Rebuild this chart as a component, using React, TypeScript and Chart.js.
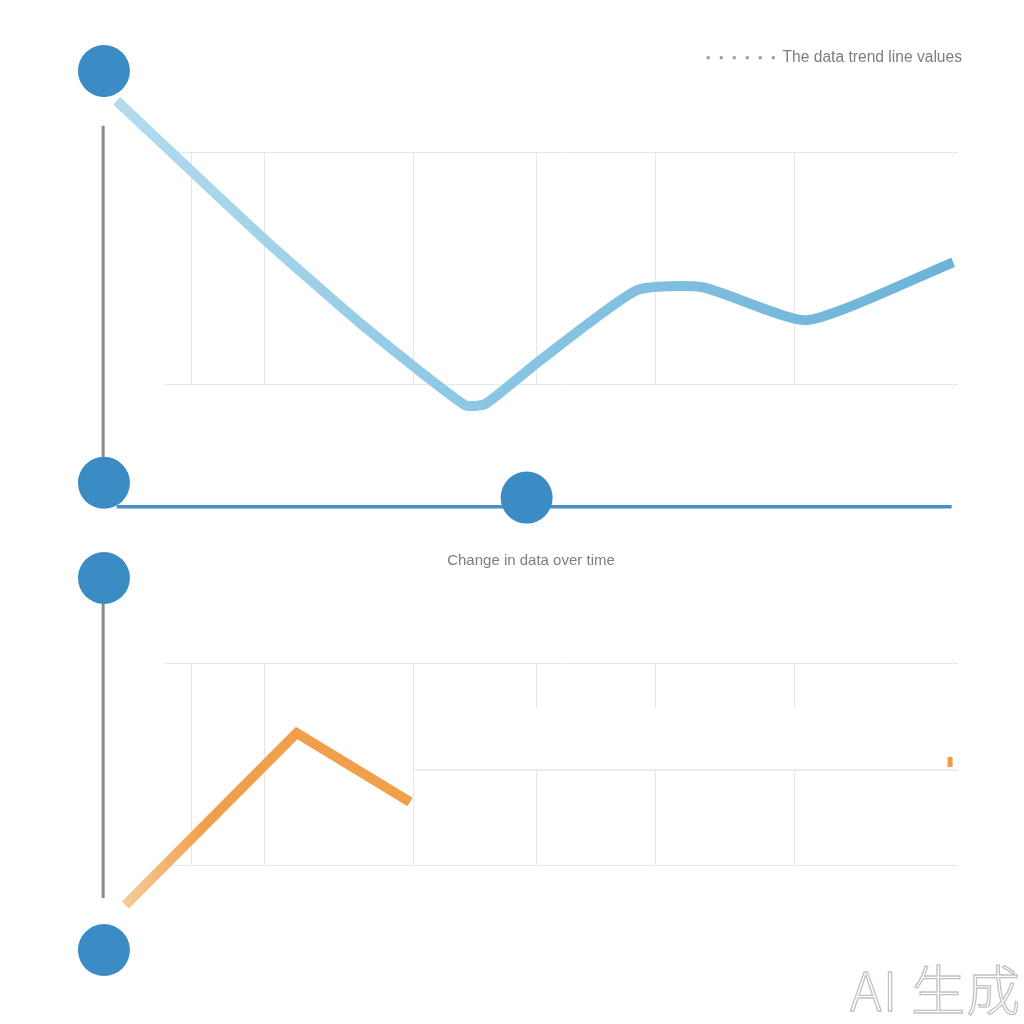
import React, { useEffect, useRef } from 'react';
import { Chart, registerables } from 'chart.js';

Chart.register(...registerables);

// ---------- data ----------
const LEGEND_LABEL = 'The data trend line values';
const TITLE_TEXT = 'Change in data over time';
const WATERMARK = 'AI 生成';

const X_GRID = [3.4, 12.5, 31.3, 46.8, 61.9, 79.4];
const Y_GRID = [0, 100];

// top panel – light blue trend line
const TOP_X = [-6.1, 12.0, 24.6, 37.8, 40.4, 46.9, 59.5, 67.8, 81.0, 99.4];
const TOP_Y = [122.4, 64.2, 26.3, -9.1, -8.6, 9.1, 40.5, 41.8, 27.6, 52.6];
// top panel – markers, axis and base line
const TOP_MARK_X = [-7.7, -7.7, 45.6];
const TOP_MARK_Y = [135.3, -42.7, -49.1];
const TOP_AXIS_X = [-7.8, -7.8];
const TOP_AXIS_Y = [111.6, -31.5];
const TOP_BASE_X = [-6.1, 99.2];
const TOP_BASE_Y = [-53.0, -53.0];

// bottom panel – orange line
const BOT_X = [-5.0, 16.6, 30.9];
const BOT_Y = [-19.8, 65.3, 31.2];
const BOT_MARK_X = [-7.7, -7.7];
const BOT_MARK_Y = [142.1, -42.1];
const BOT_AXIS_X = [-7.8, -7.8];
const BOT_AXIS_Y = [131.2, -16.3];
const MID_X = [31.3, 100];
const MID_Y = [47.0, 47.0];
const GAP_X = [31.5, 100];
const GAP_TOP = [77.7, 77.7];
const GAP_BOTTOM = 47.3;
const TICK_X = [99.0, 99.0];
const TICK_Y = [53.5, 48.5];

// ---------- styles ----------
const GRID_COLOR = '#e2e8ed';
const MARK_COLOR = '#3b8cc5';
const AXIS_COLOR = '#8b8b8b';
const TEXT_COLOR = '#7d7d7d';
const FONT_FAMILY = '"Liberation Sans", Arial, sans-serif';

const pts = (xs: number[], ys: number[]) => xs.map((x, i) => ({ x, y: ys[i] }));

function axisRange(min: number, max: number, ticks: number[], gridShown: boolean) {
  return {
    type: 'linear' as const,
    bounds: 'data' as const,
    display: true,
    afterDataLimits: (s: any) => {
      s.min = min;
      s.max = max;
    },
    afterBuildTicks: (s: any) => {
      s.ticks = ticks.map((v) => ({ value: v }));
    },
    ticks: { display: false },
    border: { display: false },
    grid: { display: gridShown, drawTicks: false, color: GRID_COLOR, lineWidth: 1 },
  };
}

function spacer(position: 'top' | 'right' | 'left', size: number) {
  return {
    type: 'linear' as const,
    position,
    display: true,
    ticks: { display: false },
    border: { display: false },
    grid: { display: false, drawTicks: false },
    afterFit: (s: any) => {
      if (position === 'top') s.height = size;
      else s.width = size;
    },
  };
}

function markerSet(xs: number[], ys: number[]) {
  return {
    data: pts(xs, ys),
    showLine: false,
    pointRadius: 26,
    pointHoverRadius: 200,
    pointBackgroundColor: MARK_COLOR,
    pointBorderWidth: 0,
    clip: false as const,
    order: 0,
  };
}

function lineSet(xs: number[], ys: number[], color: any, width: number, order: number) {
  return {
    data: pts(xs, ys),
    borderColor: color,
    borderWidth: width,
    pointRadius: 0,
    tension: 0,
    clip: false as const,
    order,
  };
}

export default function App() {
  const topRef = useRef<HTMLCanvasElement>(null);
  const botRef = useRef<HTMLCanvasElement>(null);

  useEffect(() => {
    const topGradient = (ctx: any) => {
      const chart = ctx.chart;
      const area = chart.chartArea;
      if (!area) return '#8cc6e2';
      const g = chart.ctx.createLinearGradient(area.left - 60, 0, area.right, 0);
      g.addColorStop(0, '#b4dcee');
      g.addColorStop(0.45, '#8ac6e3');
      g.addColorStop(1, '#6cb2d9');
      return g;
    };
    const orangeGradient = (ctx: any) => {
      const chart = ctx.chart;
      const area = chart.chartArea;
      if (!area) return '#f0a04a';
      const g = chart.ctx.createLinearGradient(area.left - 50, 0, area.left + 40, 0);
      g.addColorStop(0, '#f7cfa3');
      g.addColorStop(1, '#f0a04a');
      return g;
    };

    const top = new Chart(topRef.current as HTMLCanvasElement, {
      type: 'line',
      data: {
        datasets: [
          {
            ...lineSet(TOP_X, TOP_Y, topGradient, 10, 3),
            label: LEGEND_LABEL,
            tension: 0.18,
            borderJoinStyle: 'round',
            borderCapStyle: 'butt',
          } as any,
          lineSet(TOP_AXIS_X, TOP_AXIS_Y, AXIS_COLOR, 3, 2),
          lineSet(TOP_BASE_X, TOP_BASE_Y, '#4a8ec4', 3.5, 1),
          markerSet(TOP_MARK_X, TOP_MARK_Y),
        ],
      },
      options: {
        responsive: false,
        animation: false,
        events: [],
        elements: { line: { capBezierPoints: false } },
        layout: { autoPadding: false, padding: { left: 165, right: 52, top: 40, bottom: 156 } },
        scales: {
          x: { ...axisRange(0, 100, X_GRID, true), position: 'bottom' },
          y: { ...axisRange(0, 100, Y_GRID, true), position: 'left' },
          xT: spacer('top', 77),
          yR: spacer('right', 14),
        } as any,
        plugins: {
          tooltip: { enabled: false },
          title: { display: false },
          legend: {
            display: true,
            position: 'top',
            align: 'end',
            labels: {
              usePointStyle: true,
              pointStyleWidth: 68,
              padding: 10,
              color: TEXT_COLOR,
              font: { family: FONT_FAMILY, size: 15.6 },
              generateLabels: () => [
                {
                  text: LEGEND_LABEL,
                  fillStyle: 'rgba(0,0,0,0)',
                  strokeStyle: '#9b9b9b',
                  lineWidth: 3,
                  lineDash: [3, 10],
                  lineCap: 'butt',
                  pointStyle: 'line',
                  hidden: false,
                  fontColor: TEXT_COLOR,
                  datasetIndex: 0,
                } as any,
              ],
            },
          },
        },
      },
    });

    const bottom = new Chart(botRef.current as HTMLCanvasElement, {
      type: 'line',
      data: {
        datasets: [
          {
            ...lineSet(BOT_X, BOT_Y, orangeGradient, 10, 3),
            label: TITLE_TEXT,
            borderJoinStyle: 'miter',
            borderCapStyle: 'butt',
          } as any,
          lineSet(MID_X, MID_Y, '#dde4ea', 1.2, 4),
          {
            ...lineSet(GAP_X, GAP_TOP, 'rgba(0,0,0,0)', 0, 5),
            fill: { value: GAP_BOTTOM },
            backgroundColor: '#ffffff',
          } as any,
          lineSet(TICK_X, TICK_Y, '#ef9a45', 5, 2),
          lineSet(BOT_AXIS_X, BOT_AXIS_Y, AXIS_COLOR, 3, 2),
          markerSet(BOT_MARK_X, BOT_MARK_Y),
        ],
      },
      options: {
        responsive: false,
        animation: false,
        events: [],
        layout: { autoPadding: false, padding: { left: 104, right: 66, top: 0, bottom: 159 } },
        scales: {
          x: { ...axisRange(0, 100, X_GRID, true), position: 'bottom' },
          y: { ...axisRange(0, 100, Y_GRID, true), position: 'left', afterFit: (s: any) => { s.width = 61; } },
        } as any,
        plugins: {
          tooltip: { enabled: false },
          legend: { display: false },
          title: {
            display: true,
            text: TITLE_TEXT,
            color: TEXT_COLOR,
            font: { family: FONT_FAMILY, size: 15, weight: 'normal', lineHeight: 1.2 },
            padding: { top: 12, bottom: 93 },
          },
        },
      },
    });

    return () => {
      top.destroy();
      bottom.destroy();
    };
  }, []);

  return (
    <div
      style={{
        position: 'absolute',
        left: 0,
        top: 0,
        width: 1024,
        height: 1024,
        background: '#ffffff',
        overflow: 'hidden',
      }}
    >
      <canvas
        ref={topRef}
        width={1024}
        height={540}
        style={{ position: 'absolute', left: 0, top: 0, width: 1024, height: 540 }}
      />
      <canvas
        ref={botRef}
        width={1024}
        height={484}
        style={{ position: 'absolute', left: 0, top: 540, width: 1024, height: 484 }}
      />
      <div
        style={{
          position: 'absolute',
          left: 850,
          top: 958,
          fontFamily: '"Noto Sans CJK SC", "Noto Sans", sans-serif',
          fontSize: 54,
          fontWeight: 300,
          lineHeight: '60px',
          color: '#ffffff',
          WebkitTextStroke: '1.3px #c2c2c2',
          whiteSpace: 'nowrap',
          letterSpacing: 1,
        }}
      >
        {WATERMARK}
      </div>
    </div>
  );
}
